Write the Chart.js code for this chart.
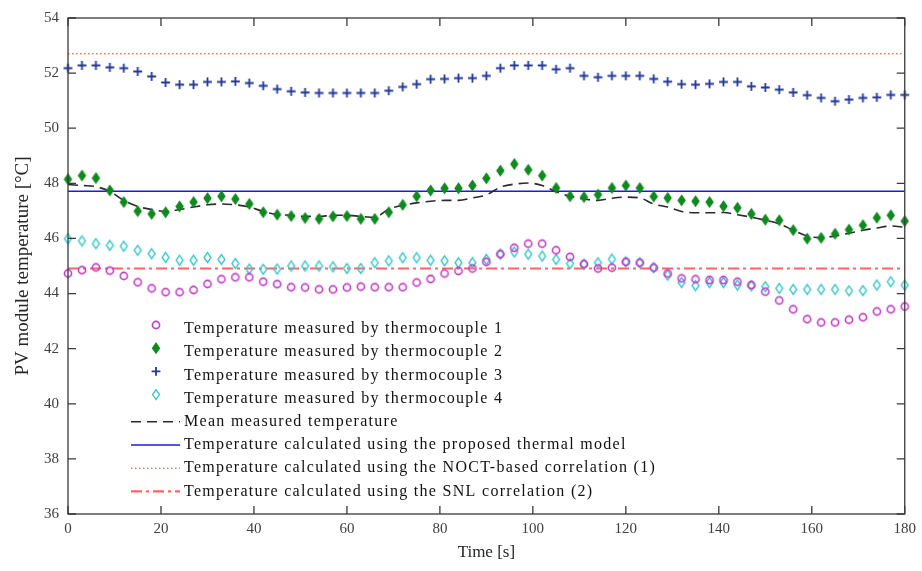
<!DOCTYPE html>
<html>
<head>
<meta charset="utf-8">
<script src="https://cdn.jsdelivr.net/npm/chart.js@4.4.1/dist/chart.umd.min.js"></script>
<style>
  html, body { margin: 0; padding: 0; background: #fff; }
</style>
</head>
<body>
<canvas id="pvChart" width="922" height="571"></canvas>
<script>
// ---- data ----
const times = [0,3,6,9,12,15,18,21,24,27,30,33,36,39,42,45,48,51,54,57,60,63,66,69,72,75,78,81,84,87,90,
  93,96,99,102,105,108,111,114,117,120,123,126,129,132,135,138,141,144,147,150,153,156,159,162,165,168,171,174,177,180];

const tc1 = [44.73,44.85,44.95,44.83,44.64,44.41,44.19,44.05,44.05,44.13,44.35,44.52,44.59,44.59,44.43,44.34,44.23,44.22,44.15,44.15,44.22,
  44.25,44.23,44.23,44.23,44.40,44.53,44.73,44.82,44.91,45.15,45.43,45.66,45.81,45.81,45.57,45.33,45.07,44.91,44.94,45.15,
  45.12,44.94,44.73,44.55,44.52,44.49,44.49,44.43,44.31,44.07,43.75,43.43,43.07,42.95,42.95,43.05,43.14,43.35,43.43,43.53];

const tc2 = [48.15,48.28,48.19,47.74,47.32,46.99,46.89,46.95,47.16,47.32,47.46,47.53,47.43,47.25,46.95,46.86,46.81,46.74,46.71,46.80,46.81,
  46.71,46.71,46.95,47.22,47.53,47.74,47.82,47.82,47.92,48.18,48.46,48.70,48.49,48.28,47.83,47.53,47.50,47.59,47.83,47.92,
  47.83,47.52,47.47,47.38,47.35,47.32,47.17,47.11,46.89,46.68,46.66,46.30,45.99,46.02,46.17,46.32,46.48,46.75,46.84,46.63];

const tc3 = [52.18,52.28,52.28,52.21,52.18,52.06,51.88,51.66,51.58,51.58,51.68,51.68,51.70,51.64,51.54,51.42,51.34,51.30,51.28,51.28,51.28,
  51.28,51.28,51.36,51.50,51.60,51.78,51.79,51.82,51.82,51.90,52.18,52.28,52.28,52.28,52.14,52.18,51.90,51.85,51.90,51.90,
  51.90,51.79,51.69,51.60,51.58,51.61,51.68,51.68,51.52,51.48,51.40,51.30,51.20,51.10,50.98,51.04,51.10,51.12,51.21,51.21];

const tc4 = [45.99,45.91,45.81,45.75,45.72,45.57,45.45,45.31,45.21,45.21,45.31,45.24,45.09,44.89,44.88,44.89,45.00,45.00,45.00,44.97,44.91,
  44.91,45.12,45.19,45.30,45.30,45.21,45.19,45.12,45.12,45.24,45.43,45.51,45.43,45.36,45.24,45.09,45.07,45.12,45.25,45.15,
  45.12,44.94,44.67,44.40,44.29,44.40,44.40,44.31,44.28,44.25,44.19,44.15,44.15,44.15,44.15,44.10,44.11,44.31,44.43,44.31];

const meanTemp = [47.96,47.92,47.88,47.70,47.38,47.16,47.05,46.98,47.05,47.14,47.22,47.25,47.22,47.14,46.98,46.87,46.84,46.80,46.80,46.84,46.84,
  46.80,46.77,47.07,47.20,47.29,47.35,47.38,47.38,47.47,47.58,47.86,47.97,48.01,47.92,47.70,47.53,47.43,47.38,47.46,47.50,
  47.47,47.25,47.14,46.98,46.93,46.93,46.94,46.86,46.77,46.66,46.53,46.30,46.09,46.03,46.09,46.19,46.30,46.38,46.45,46.41];

const modelTemp = 47.71;   // proposed thermal model
const noctTemp = 52.70;    // NOCT-based correlation (1)
const snlTemp = 44.91;     // SNL correlation (2)
const lineSpan = [0, 180];

const xTicks = [0,20,40,60,80,100,120,140,160,180];
const yTicks = [36,38,40,42,44,46,48,50,52,54];

const labels = [
  'Temperature measured by thermocouple 1',
  'Temperature measured by thermocouple 2',
  'Temperature measured by thermocouple 3',
  'Temperature measured by thermocouple 4',
  'Mean measured temperature',
  'Temperature calculated using the proposed thermal model',
  'Temperature calculated using the NOCT-based correlation (1)',
  'Temperature calculated using the SNL correlation (2)'
];

const FONT = "'Liberation Serif', 'DejaVu Serif', serif";

function pts(arr) { return times.map((t, i) => ({ x: t, y: arr[i] })); }
function flat(v) { return lineSpan.map(t => ({ x: t, y: v })); }

// marker styles (also used for the legend)
const markers = [
  { shape: 'circle', color: '#c43cc8', fill: false, r: 3.6, lw: 1.6 },
  { shape: 'diamond', color: '#0f8a1e', fill: true, r: 4.4, lw: 1.2 },
  { shape: 'cross', color: '#23389a', fill: false, r: 4.4, lw: 1.8 },
  { shape: 'diamond', color: '#3cc8cc', fill: false, r: 4.3, lw: 1.4 }
];
const lineStyles = [
  { color: '#2a2a2a', width: 1.6, dash: [10, 6] },
  { color: '#1a1aee', width: 1.5, dash: [] },
  { color: '#d9825a', width: 1.6, dash: [1.5, 2.5] },
  { color: '#ff6464', width: 2.2, dash: [11, 4, 3, 4] }
];

function drawMarker(ctx, m, x, y) {
  ctx.save();
  ctx.strokeStyle = m.color;
  ctx.fillStyle = m.color;
  ctx.lineWidth = m.lw;
  ctx.beginPath();
  if (m.shape === 'circle') {
    ctx.arc(x, y, m.r, 0, Math.PI * 2);
  } else if (m.shape === 'diamond') {
    ctx.moveTo(x, y - m.r * 1.15);
    ctx.lineTo(x + m.r * 0.8, y);
    ctx.lineTo(x, y + m.r * 1.15);
    ctx.lineTo(x - m.r * 0.8, y);
    ctx.closePath();
  } else if (m.shape === 'cross') {
    ctx.moveTo(x - m.r, y); ctx.lineTo(x + m.r, y);
    ctx.moveTo(x, y - m.r); ctx.lineTo(x, y + m.r);
  }
  if (m.fill) ctx.fill();
  ctx.stroke();
  ctx.restore();
}

// custom point style so the markers match the figure
function markerCanvas(m) {
  const s = Math.ceil(m.r * 2 + 6);
  const c = document.createElement('canvas');
  c.width = s; c.height = s;
  drawMarker(c.getContext('2d'), m, s / 2, s / 2);
  return c;
}

const scatterSets = [tc1, tc2, tc3, tc4].map((arr, i) => ({
  label: labels[i],
  data: pts(arr),
  showLine: false,
  pointStyle: markerCanvas(markers[i]),
  pointRadius: markers[i].r,
  clip: false
}));

const lineSets = [pts(meanTemp), flat(modelTemp), flat(noctTemp), flat(snlTemp)].map((d, i) => ({
  label: labels[4 + i],
  data: d,
  showLine: true,
  pointRadius: 0,
  borderColor: lineStyles[i].color,
  borderWidth: lineStyles[i].width,
  borderDash: lineStyles[i].dash,
  tension: i === 0 ? 0.4 : 0,
  cubicInterpolationMode: i === 0 ? 'monotone' : 'default'
}));

// frame with inward ticks on all four sides (MATLAB style box)
const framePlugin = {
  id: 'frame',
  afterDraw(chart) {
    const { ctx, chartArea: a, scales } = chart;
    ctx.save();
    ctx.strokeStyle = '#3a3a3a';
    ctx.lineWidth = 1.3;
    ctx.strokeRect(a.left, a.top, a.right - a.left, a.bottom - a.top);
    ctx.beginPath();
    xTicks.forEach(v => {
      const px = scales.x.getPixelForValue(v);
      ctx.moveTo(px, a.bottom); ctx.lineTo(px, a.bottom - 8);
      ctx.moveTo(px, a.top); ctx.lineTo(px, a.top + 8);
    });
    yTicks.forEach(v => {
      const py = scales.y.getPixelForValue(v);
      ctx.moveTo(a.left, py); ctx.lineTo(a.left + 8, py);
      ctx.moveTo(a.right, py); ctx.lineTo(a.right - 8, py);
    });
    ctx.stroke();
    ctx.restore();
  }
};

// legend drawn inside the plot, lower left, no box
const legendPlugin = {
  id: 'inLegend',
  afterDraw(chart) {
    const ctx = chart.ctx;
    const x0 = 131, x1 = 180, xm = 156, xt = 184;
    let y = 329;
    const step = 23.2;
    ctx.save();
    ctx.font = '16px ' + FONT;
    ctx.letterSpacing = '1.3px';
    ctx.fillStyle = '#111';
    ctx.textBaseline = 'middle';
    labels.forEach((lab, i) => {
      if (i < 4) {
        drawMarker(ctx, markers[i], xm, y - 4);
      } else {
        const ls = lineStyles[i - 4];
        ctx.save();
        ctx.strokeStyle = ls.color;
        ctx.lineWidth = ls.width;
        ctx.setLineDash(ls.dash);
        ctx.beginPath();
        ctx.moveTo(x0, y); ctx.lineTo(x1, y);
        ctx.stroke();
        ctx.restore();
      }
      ctx.fillText(lab, xt, y);
      y += step;
    });
    ctx.restore();
  }
};

new Chart(document.getElementById('pvChart').getContext('2d'), {
  type: 'scatter',
  data: { datasets: [...scatterSets, ...lineSets] },
  options: {
    responsive: false,
    animation: false,
    layout: { padding: { top: 14, right: 17, left: 12, bottom: 8 } },
    plugins: {
      legend: { display: false },
      tooltip: { enabled: false }
    },
    scales: {
      x: {
        type: 'linear',
        min: 0,
        max: 180,
        afterBuildTicks: (s) => { s.ticks = xTicks.map(v => ({ value: v })); },
        afterFit: (s) => { s.height = 49; },
        grid: { display: false, drawTicks: false },
        border: { display: false },
        ticks: { color: '#404040', padding: 6, font: { family: FONT, size: 15 }, maxRotation: 0 },
        title: {
          display: true, text: 'Time [s]', color: '#262626',
          font: { family: FONT, size: 17 }, padding: { top: 0, bottom: 0 }
        }
      },
      y: {
        min: 36,
        max: 54,
        afterBuildTicks: (s) => { s.ticks = yTicks.map(v => ({ value: v })); },
        afterFit: (s) => { s.width = 56; },
        grid: { display: false, drawTicks: false },
        border: { display: false },
        ticks: { color: '#404040', padding: 9, font: { family: FONT, size: 15 } },
        title: {
          display: true, text: 'PV module temperature [°C]', color: '#262626',
          font: { family: FONT, size: 19 }, padding: { top: 0, bottom: 0 }
        }
      }
    }
  },
  plugins: [framePlugin, legendPlugin]
});
</script>
</body>
</html>
